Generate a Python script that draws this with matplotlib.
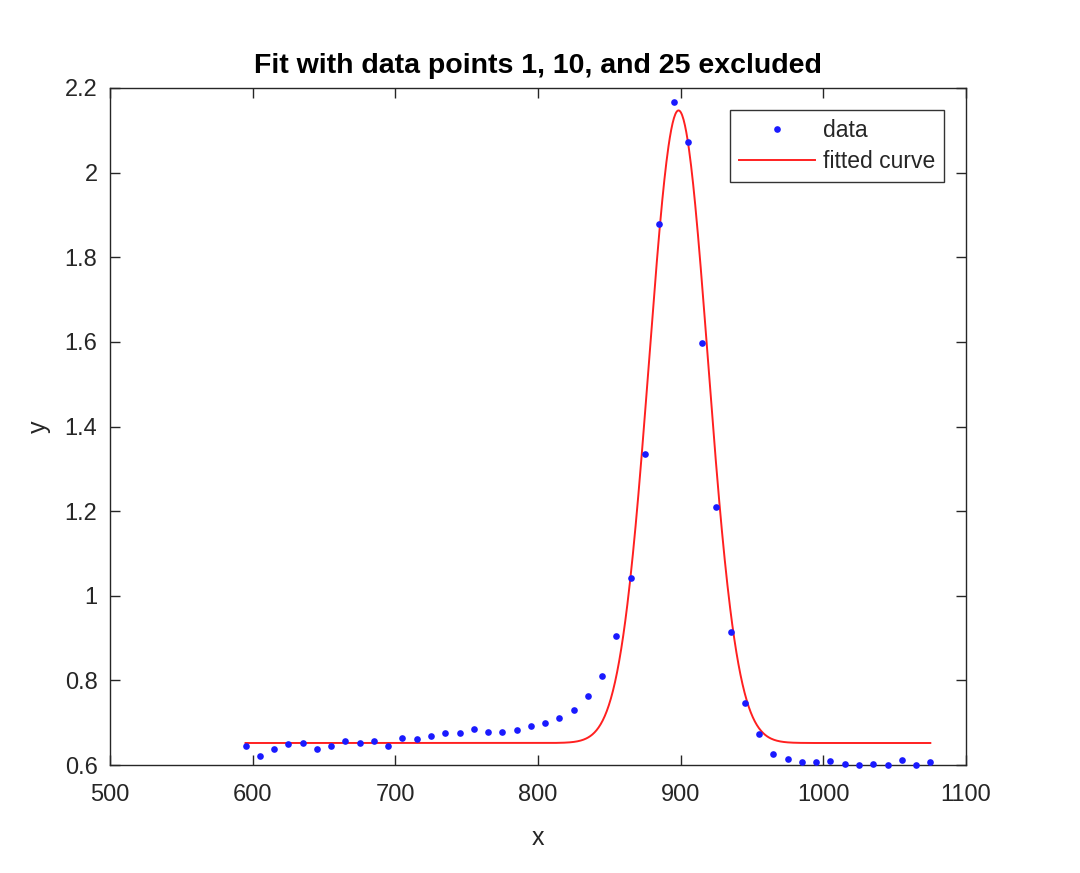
import numpy as np
import matplotlib
matplotlib.use("Agg")
import matplotlib.pyplot as plt

plt.rcParams['font.family'] = ['Liberation Sans', 'DejaVu Sans']

x_data = [595, 605, 615, 625, 635, 645, 655, 665, 675, 685, 695, 705, 715, 725, 735,
          745, 755, 765, 775, 785, 795, 805, 815, 825, 835, 845, 855, 865, 875, 885,
          895, 905, 915, 925, 935, 945, 955, 965, 975, 985, 995, 1005, 1015, 1025,
          1035, 1045, 1055, 1065, 1075]
y_data = [0.644, 0.622, 0.638, 0.649, 0.652, 0.638, 0.645, 0.657, 0.652, 0.656,
          0.644, 0.663, 0.662, 0.668, 0.675, 0.675, 0.686, 0.678, 0.678, 0.683,
          0.693, 0.699, 0.711, 0.730, 0.763, 0.811, 0.906, 1.043, 1.336, 1.879,
          2.166, 2.073, 1.597, 1.210, 0.915, 0.746, 0.673, 0.627, 0.615, 0.607,
          0.607, 0.610, 0.603, 0.601, 0.603, 0.601, 0.611, 0.601, 0.608]

# fitted Gaussian model parameters: y = a*exp(-((x-b)/c)^2) + d
fit_a = 1.495
fit_b = 898.5
fit_c = 29.1
fit_d = 0.652

x_ticks = [500, 600, 700, 800, 900, 1000, 1100]
y_ticks = [0.6, 0.8, 1.0, 1.2, 1.4, 1.6, 1.8, 2.0, 2.2]
y_ticklabels = ['0.6', '0.8', '1', '1.2', '1.4', '1.6', '1.8', '2', '2.2']

fig = plt.figure(figsize=(10.8, 8.73), dpi=100)
ax = fig.add_axes([110/1080, 1 - 765/873, (966-110)/1080, (765-88)/873])

xf = np.linspace(min(x_data), max(x_data), 1000)
yf = fit_a * np.exp(-((xf - fit_b) / fit_c) ** 2) + fit_d

ax.plot(x_data, y_data, linestyle='none', marker='o', markersize=4.8,
        color='#1a1aff', markeredgewidth=0, label='data', clip_on=False, zorder=3)
ax.plot(xf, yf, color='#ff2020', linewidth=1.4, label='fitted curve', zorder=2)

ax.set_xlim(500, 1100)
ax.set_ylim(0.6, 2.2)
ax.set_xticks(x_ticks)
ax.set_yticks(y_ticks)
ax.set_yticklabels(y_ticklabels)

tc = '#262626'
ax.tick_params(direction='in', length=7, width=1, top=True, right=True,
               labelsize=17, colors=tc)
ax.tick_params(axis='x', pad=14)
ax.tick_params(axis='y', pad=9)
for s in ax.spines.values():
    s.set_color(tc)
    s.set_linewidth(1)

ax.set_xlabel('x', fontsize=18, color=tc, labelpad=14)
ax.set_ylabel('y', fontsize=18, color=tc, labelpad=10)
ax.set_title('Fit with data points 1, 10, and 25 excluded', fontsize=20.5,
             fontweight='bold', color='black', pad=11)

leg = ax.legend(loc='upper right', fontsize=16.5, frameon=True, fancybox=False,
                borderaxespad=0.0, bbox_to_anchor=(944/1080, 1 - 110/873),
                bbox_transform=fig.transFigure, handlelength=3.3,
                handletextpad=0.35, borderpad=0.4, labelspacing=0.35)
leg.get_frame().set_edgecolor('black')
leg.get_frame().set_linewidth(1)
for t in leg.get_texts():
    t.set_color(tc)

fig.savefig('out.png', dpi=100, facecolor='white')
